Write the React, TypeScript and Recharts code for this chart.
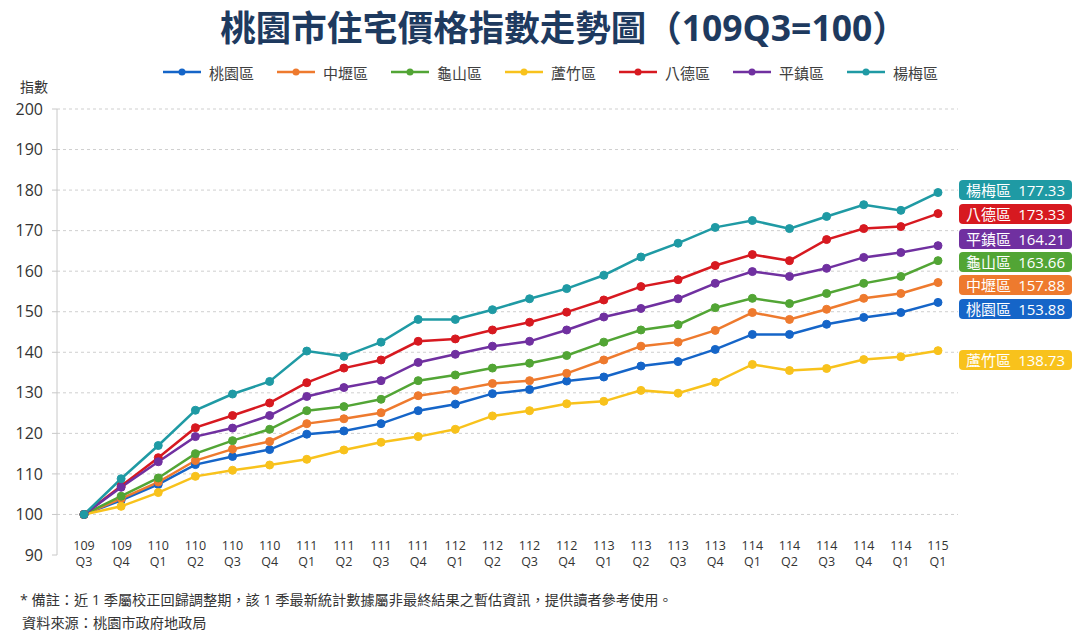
import { LineChart, Line, XAxis, YAxis, CartesianGrid } from "recharts";

const quarterLabels = [
  "109 Q3", "109 Q4", "110 Q1", "110 Q2", "110 Q3", "110 Q4",
  "111 Q1", "111 Q2", "111 Q3", "111 Q4", "112 Q1", "112 Q2",
  "112 Q3", "112 Q4", "113 Q1", "113 Q2", "113 Q3", "113 Q4",
  "114 Q1", "114 Q2", "114 Q3", "114 Q4", "114 Q1", "115 Q1",
];

const taoyuan = [100, 103.5, 107.4, 112.3, 114.3, 116.0, 119.8, 120.6, 122.4, 125.6, 127.2, 129.8, 130.8, 132.9, 133.9, 136.6, 137.7, 140.7, 144.4, 144.4, 146.9, 148.6, 149.8, 152.3];
const zhongli = [100, 103.9, 108.0, 113.3, 116.1, 118.0, 122.4, 123.6, 125.1, 129.3, 130.6, 132.3, 133.0, 134.8, 138.1, 141.5, 142.5, 145.4, 149.8, 148.1, 150.6, 153.3, 154.5, 157.2];
const guishan = [100, 104.5, 109.0, 115.0, 118.2, 121.0, 125.6, 126.6, 128.4, 133.0, 134.4, 136.1, 137.3, 139.2, 142.5, 145.5, 146.8, 151.0, 153.3, 152.0, 154.5, 157.0, 158.7, 162.6];
const luzhu = [100, 102.0, 105.4, 109.4, 110.9, 112.2, 113.6, 115.9, 117.8, 119.2, 121.0, 124.3, 125.6, 127.3, 127.9, 130.6, 129.9, 132.6, 137.0, 135.5, 136.0, 138.2, 138.9, 140.4];
const bade = [100, 107.0, 114.0, 121.4, 124.4, 127.5, 132.5, 136.1, 138.1, 142.7, 143.3, 145.5, 147.4, 149.9, 152.9, 156.2, 157.9, 161.4, 164.1, 162.6, 167.8, 170.5, 171.0, 174.2];
const pingzhen = [100, 106.7, 113.0, 119.2, 121.3, 124.4, 129.1, 131.3, 133.0, 137.5, 139.5, 141.5, 142.7, 145.5, 148.7, 150.8, 153.2, 157.0, 159.9, 158.7, 160.7, 163.4, 164.6, 166.3];
const yangmei = [100, 108.8, 117.0, 125.7, 129.7, 132.8, 140.3, 139.0, 142.5, 148.1, 148.1, 150.5, 153.2, 155.7, 159.0, 163.5, 166.9, 170.8, 172.5, 170.5, 173.5, 176.4, 175.0, 179.4];

const yTicks = [90, 100, 110, 120, 130, 140, 150, 160, 170, 180, 190, 200];

// legend / drawing order (last one on top)
const series = [
  { key: "taoyuan", name: "桃園區", color: "#1565c8", values: taoyuan },
  { key: "zhongli", name: "中壢區", color: "#ee7a2e", values: zhongli },
  { key: "guishan", name: "龜山區", color: "#52a535", values: guishan },
  { key: "luzhu", name: "蘆竹區", color: "#f8c21c", values: luzhu },
  { key: "bade", name: "八德區", color: "#d71920", values: bade },
  { key: "pingzhen", name: "平鎮區", color: "#7030a0", values: pingzhen },
  { key: "yangmei", name: "楊梅區", color: "#1f9aa4", values: yangmei },
];

// end-of-line tags, top to bottom
const tagNames = ["楊梅區", "八德區", "平鎮區", "龜山區", "中壢區", "桃園區", "蘆竹區"];
const tagValues = ["177.33", "173.33", "164.21", "163.66", "157.88", "153.88", "138.73"];
const tagTops = [180, 204, 229, 252, 275, 299, 350];

const rows = quarterLabels.map((_, i) => {
  const row: Record<string, number> = { idx: i };
  series.forEach((s) => (row[s.key] = s.values[i]));
  return row;
});

const FONT = "'Open Sans', 'Noto Sans CJK TC', sans-serif";

function QuarterTick(props: any) {
  const { x, y, payload } = props;
  const [yr, q] = quarterLabels[payload.value].split(" ");
  return (
    <text x={x} y={y} textAnchor="middle" fill="#333" fontSize={12.5} fontFamily={FONT}>
      <tspan x={x} dy={-5.5}>{yr}</tspan>
      <tspan x={x} dy={16}>{q}</tspan>
    </text>
  );
}

export default function App() {
  return (
    <div
      style={{
        position: "absolute",
        left: 0,
        top: 0,
        width: 1080,
        height: 643,
        background: "#fff",
        fontFamily: FONT,
        overflow: "hidden",
      }}
    >
      <div
        style={{
          position: "absolute",
          top: 4,
          left: 0,
          width: 1128,
          textAlign: "center",
          fontSize: 35.5,
          fontWeight: 700,
          color: "#1e3a5f",
          lineHeight: "46px",
          whiteSpace: "nowrap",
        }}
      >
        桃園市住宅價格指數走勢圖（109Q3=100）
      </div>

      <div style={{ position: "absolute", top: 61, left: 163, display: "flex", height: 22, alignItems: "center" }}>
        {series.map((s) => (
          <div key={s.key} style={{ display: "flex", alignItems: "center", width: 114 }}>
            <svg width={38} height={10}>
              <line x1={0} y1={5} x2={38} y2={5} stroke={s.color} strokeWidth={2.5} />
              <circle cx={19} cy={5} r={3.5} fill={s.color} />
            </svg>
            <span style={{ marginLeft: 8, fontSize: 15, color: "#404040" }}>{s.name}</span>
          </div>
        ))}
      </div>

      <div style={{ position: "absolute", top: 76, left: 20, fontSize: 14, color: "#333" }}>指數</div>

      <div style={{ position: "absolute", top: 0, left: 0 }}>
        <LineChart width={1080} height={643} data={rows} margin={{ top: 109, right: 122, bottom: 48, left: 0 }}>
          <CartesianGrid
            vertical={false}
            stroke="#cfcfcf"
            strokeDasharray="3 3"
            horizontalValues={yTicks.filter((t) => t > 90)}
          />
          <XAxis
            dataKey="idx"
            type="category"
            interval={0}
            height={40}
            axisLine={false}
            tickLine={false}
            tickSize={0}
            tickMargin={0}
            padding={{ left: 27, right: 20 }}
            tick={<QuarterTick />}
          />
          <YAxis
            domain={[90, 200]}
            ticks={yTicks}
            width={57}
            axisLine={{ stroke: "#c8c8c8" }}
            tickLine={{ stroke: "#c8c8c8" }}
            tickSize={5}
            tickMargin={9}
            tick={{ fill: "#333", fontSize: 16, fontFamily: FONT }}
          />
          {series.map((s) => (
            <Line
              key={s.key}
              dataKey={s.key}
              name={s.name}
              type="linear"
              stroke={s.color}
              strokeWidth={2.5}
              dot={{ r: 4, fill: s.color, stroke: s.color, strokeWidth: 1 }}
              activeDot={false}
              isAnimationActive={false}
            />
          ))}
        </LineChart>
      </div>

      {tagNames.map((n, i) => {
        const s = series.find((x) => x.name === n)!;
        return (
          <div
            key={n}
            style={{
              position: "absolute",
              left: 959,
              top: tagTops[i],
              width: 113,
              height: 20,
              boxSizing: "border-box",
              padding: "0 7px",
              borderRadius: 4,
              background: s.color,
              color: "#fff",
              fontSize: 15,
              lineHeight: "20px",
              display: "flex",
              justifyContent: "space-between",
            }}
          >
            <span>{n}</span>
            <span>{tagValues[i]}</span>
          </div>
        );
      })}

      <div style={{ position: "absolute", top: 590, left: 20, fontSize: 14.2, color: "#333", lineHeight: "20px", whiteSpace: "nowrap" }}>
        * 備註：近 1 季屬校正回歸調整期，該 1 季最新統計數據屬非最終結果之暫估資訊，提供讀者參考使用。
      </div>
      <div style={{ position: "absolute", top: 613, left: 22, fontSize: 14.2, color: "#333", lineHeight: "20px" }}>
        資料來源：桃園市政府地政局
      </div>
    </div>
  );
}
